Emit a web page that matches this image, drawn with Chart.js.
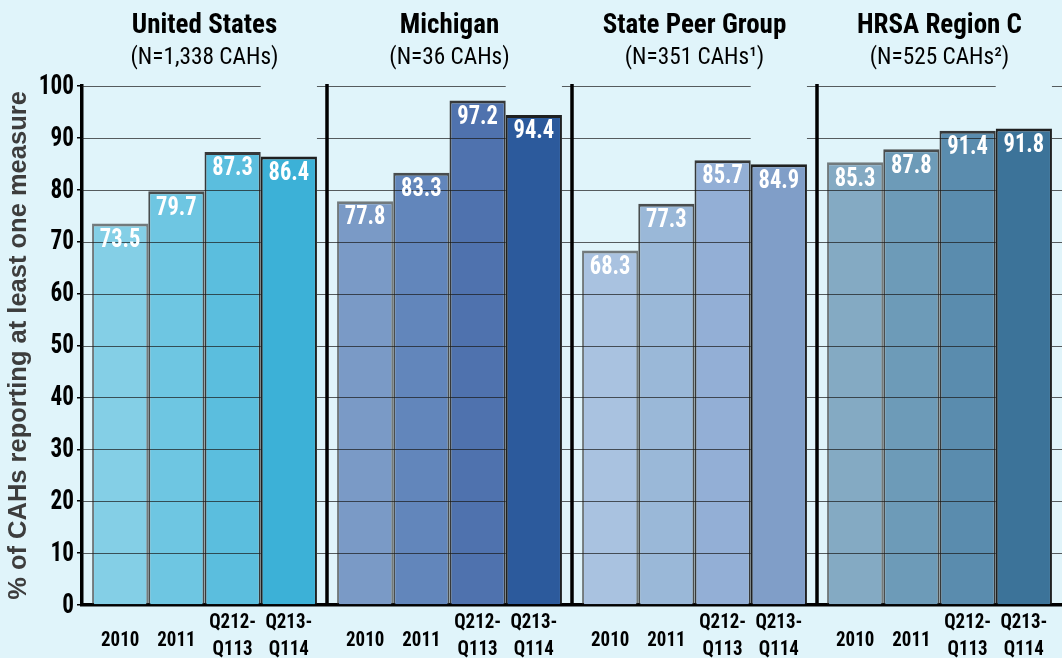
<!DOCTYPE html>
<html>
<head>
<meta charset="utf-8">
<script src="https://cdn.jsdelivr.net/npm/chart.js@4/dist/chart.umd.min.js"></script>
<style>
  html, body { margin: 0; padding: 0; background: #e0f4fa; overflow: hidden; }
  #wrap { width: 1062px; height: 658px; }
</style>
</head>
<body>
<div id="wrap"><canvas id="cah-chart" width="1062" height="658"></canvas></div>
<script>
// groups shown as panels
const groups = ['United States', 'Michigan', 'State Peer Group', 'HRSA Region C'];
const groupNotes = ['(N=1,338 CAHs)', '(N=36 CAHs)', '(N=351 CAHs\u00b9)', '(N=525 CAHs\u00b2)'];

// periods (one dataset each), labels under bars
const periods = [['2010'], ['2011'], ['Q212-', 'Q113'], ['Q213-', 'Q114']];

// % of CAHs reporting at least one measure, by group
const vals2010 = [73.5, 77.8, 68.3, 85.3];
const vals2011 = [79.7, 83.3, 77.3, 87.8];
const valsQ212 = [87.3, 97.2, 85.7, 91.4];
const valsQ213 = [86.4, 94.4, 84.9, 91.8];

const yMax = 100;
const yStep = 10;

// colours per period, per group
const fills = [
  ['#84cfe6', '#7a9ac6', '#a9c2e0', '#84aac3'],
  ['#6ec6e2', '#6286bb', '#9ab8d8', '#6d9bb8'],
  ['#5bbede', '#4f72ae', '#93afd6', '#5a8cae'],
  ['#3cb1d7', '#2c5a9c', '#809ec8', '#3c7399']
];
const edges = ['rgba(40,40,40,0.6)', 'rgba(35,35,35,0.8)', 'rgba(30,30,30,0.88)', 'rgba(20,20,20,0.95)'];

const NARROW = "'Roboto Condensed', 'Liberation Sans Narrow', 'DejaVu Sans Condensed', sans-serif";

const series = [vals2010, vals2011, valsQ212, valsQ213];

// slightly squeezed text, to get close to the condensed face of the original
function narrowText(ctx, text, x, y, font, squeeze) {
  ctx.save();
  ctx.font = font;
  ctx.translate(x, y);
  ctx.scale(squeeze, 1);
  ctx.fillText(text, 0, 0);
  ctx.restore();
}

const overlay = {
  id: 'overlay',
  afterDatasetsDraw(chart) {
    const { ctx, chartArea: a, scales: { x, y } } = chart;
    const lastBars = chart.getDatasetMeta(series.length - 1).data
      .map(b => [b.x - b.width / 2, b.x + b.width / 2])
      .sort((p, q) => p[0] - q[0]);
    ctx.save();

    // gridlines, drawn over the bars except the last period
    ctx.strokeStyle = 'rgba(25,25,25,0.7)';
    ctx.lineWidth = 1;
    for (let v = yStep; v <= yMax; v += yStep) {
      const py = Math.round(y.getPixelForValue(v)) + 0.5;
      ctx.beginPath();
      let sx = a.left;
      lastBars.forEach(([l, r]) => {
        ctx.moveTo(sx, py); ctx.lineTo(l, py);
        sx = r;
      });
      ctx.moveTo(sx, py); ctx.lineTo(a.right, py);
      ctx.stroke();
    }

    // panel separators
    ctx.strokeStyle = '#000';
    ctx.lineWidth = 3.5;
    for (let i = 1; i < groups.length; i++) {
      const px = (x.getPixelForValue(i - 1) + x.getPixelForValue(i)) / 2;
      ctx.beginPath();
      ctx.moveTo(px, a.top - 2);
      ctx.lineTo(px, a.bottom);
      ctx.stroke();
    }

    // value labels
    ctx.fillStyle = '#fff';
    ctx.textAlign = 'center';
    ctx.textBaseline = 'middle';
    series.forEach((s, d) => {
      chart.getDatasetMeta(d).data.forEach((bar, i) => {
        narrowText(ctx, s[i].toFixed(1), bar.x, bar.y + 17, 'bold 25px ' + NARROW, 0.9);
      });
    });

    // y tick labels
    ctx.fillStyle = '#000';
    ctx.textAlign = 'right';
    y.ticks.forEach(t => {
      narrowText(ctx, String(t.value), a.left - 8, y.getPixelForValue(t.value) + 1, 'bold 27px ' + NARROW, 0.86);
    });

    ctx.restore();
  },
  afterDraw(chart) {
    const { ctx, scales: { x } } = chart;
    ctx.save();
    ctx.fillStyle = '#000';
    ctx.textAlign = 'center';
    ctx.textBaseline = 'alphabetic';

    // panel headers
    groups.forEach((g, i) => {
      const cx = x.getPixelForValue(i);
      narrowText(ctx, g, cx, 33, 'bold 27px ' + NARROW, 1);
      narrowText(ctx, groupNotes[i], cx, 64, '24px ' + NARROW, 0.97);
    });

    // period labels under each bar
    const f = 'bold 21px ' + NARROW;
    periods.forEach((lines, d) => {
      chart.getDatasetMeta(d).data.forEach(bar => {
        if (lines.length === 1) {
          narrowText(ctx, lines[0], bar.x, 646, f, 0.9);
        } else {
          narrowText(ctx, lines[0], bar.x, 628, f, 0.9);
          narrowText(ctx, lines[1], bar.x, 655, f, 0.9);
        }
      });
    });
    ctx.restore();
  }
};

new Chart(document.getElementById('cah-chart'), {
  type: 'bar',
  data: {
    labels: groups,
    datasets: series.map((s, d) => ({
      label: periods[d].join(''),
      data: s,
      backgroundColor: fills[d],
      borderColor: edges[d],
      borderWidth: { top: 3, left: 2, right: 2, bottom: 0 },
      borderSkipped: false,
      barPercentage: 1.0,
      categoryPercentage: 0.918
    }))
  },
  options: {
    responsive: false,
    animation: false,
    layout: { padding: { top: 86, right: 0, bottom: 0, left: 0 } },
    plugins: {
      legend: { display: false },
      tooltip: { enabled: false }
    },
    scales: {
      x: {
        ticks: { display: false },
        grid: { display: false },
        border: { display: true, color: '#000', width: 3.5 },
        afterFit(s) { s.height = 53; }
      },
      y: {
        min: 0,
        max: yMax,
        ticks: { stepSize: yStep, display: false },
        grid: { drawOnChartArea: false, drawTicks: true, tickLength: 5, color: '#000', lineWidth: 1.5 },
        border: { display: true, color: '#000', width: 3.5 },
        title: {
          display: true,
          text: '% of CAHs reporting at least one measure',
          color: '#3d3d3d',
          padding: { top: 4, bottom: 0 },
          font: { family: "'Liberation Sans', Arial, sans-serif", size: 25.5, weight: 'bold' }
        },
        afterFit(s) { s.width = 82; }
      }
    }
  },
  plugins: [overlay]
});
</script>
</body>
</html>
